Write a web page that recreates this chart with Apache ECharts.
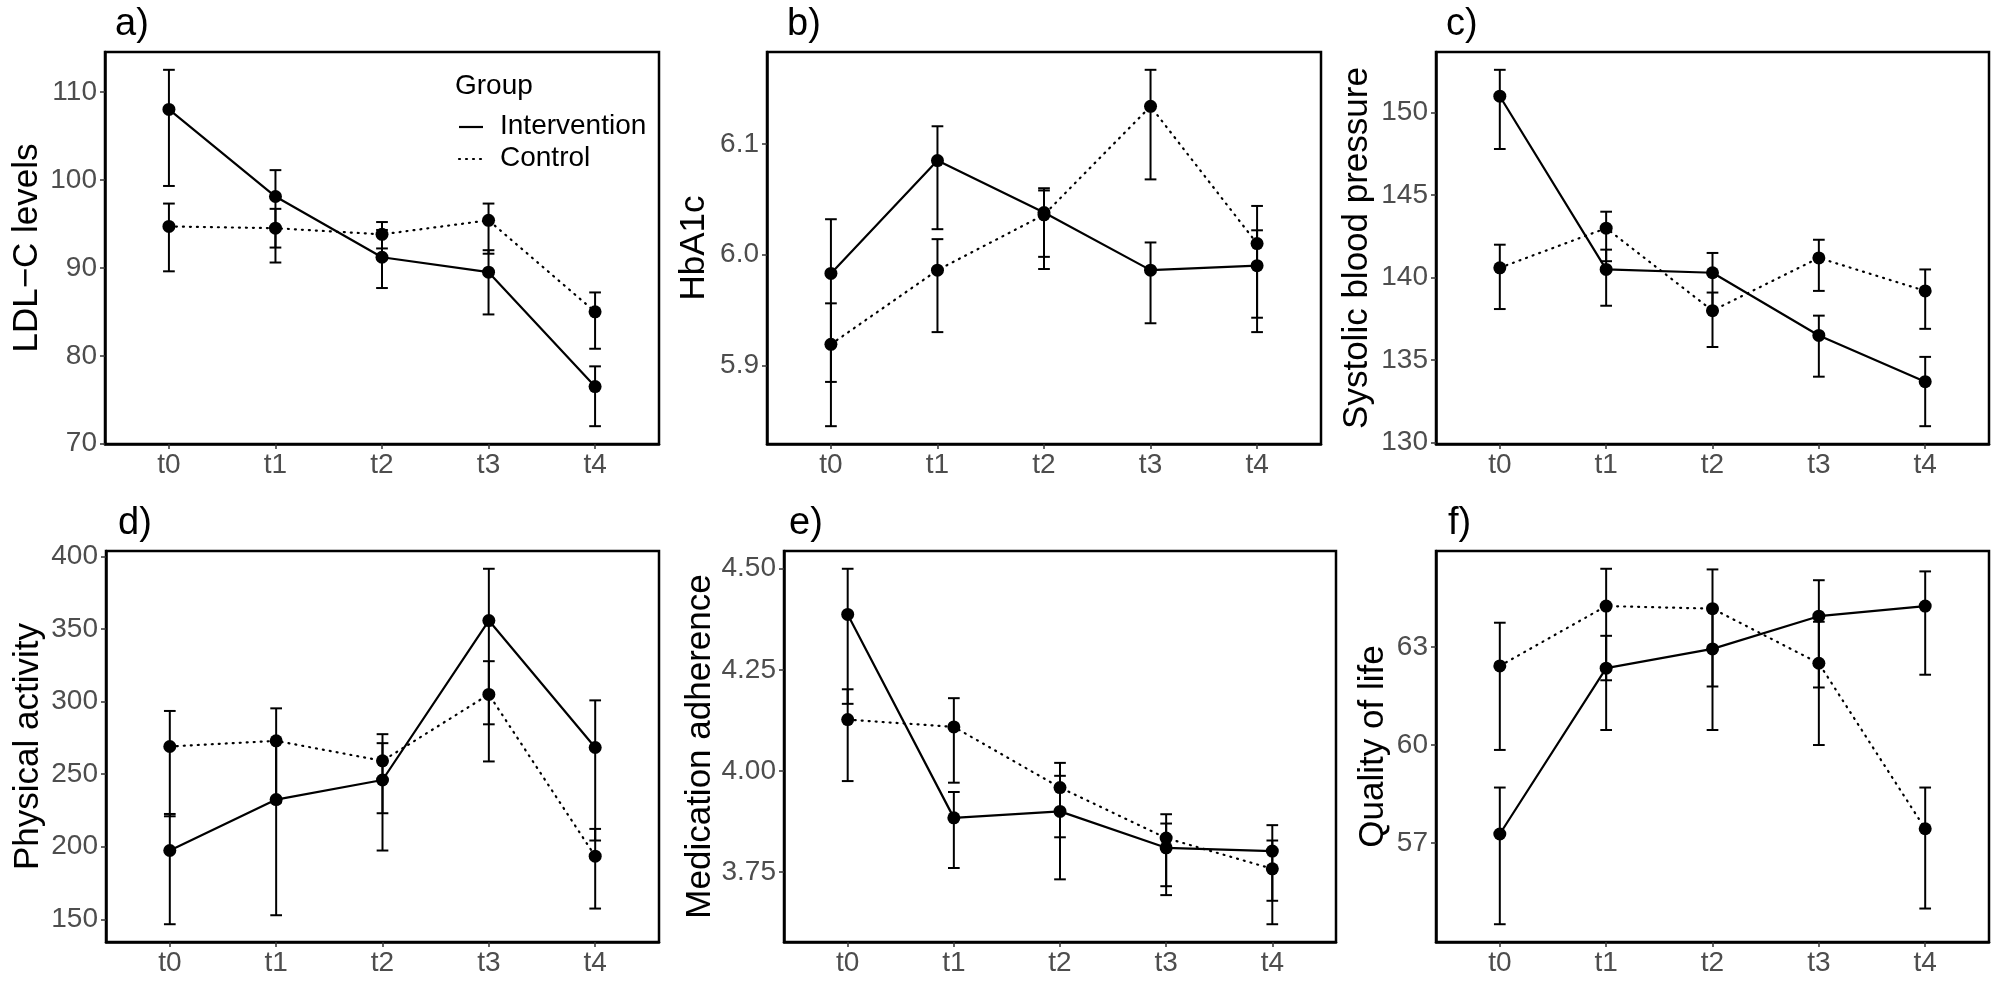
<!DOCTYPE html>
<html>
<head>
<meta charset="utf-8">
<script src="https://cdn.jsdelivr.net/npm/echarts@6/dist/echarts.min.js"></script>
<style>
  html, body { margin: 0; padding: 0; background: #fff; }
  #main { width: 1999px; height: 982px; }
</style>
</head>
<body>
<div id="main"></div>
<script>
// time points shared by all panels
const timepoints = ['t0', 't1', 't2', 't3', 't4'];

// a) LDL-C
const ldlInt = [108.0, 98.1, 91.2, 89.5, 76.5];
const ldlIntCI = [[99.3, 112.5], [92.3, 101.1], [87.7, 94.3], [84.7, 92.0], [72.0, 78.8]];
const ldlCtl = [94.7, 94.5, 93.8, 95.4, 85.0];
const ldlCtlCI = [[89.6, 97.3], [90.6, 96.7], [92.2, 95.2], [91.6, 97.3], [80.8, 87.2]];
const ldlTicks = [70, 80, 90, 100, 110];

// b) HbA1c
const hbaInt = [5.983, 6.085, 6.038, 5.986, 5.990];
const hbaIntCI = [[5.885, 6.032], [6.023, 6.116], [5.998, 6.060], [5.938, 6.011], [5.930, 6.022]];
const hbaCtl = [5.919, 5.986, 6.036, 6.134, 6.010];
const hbaCtlCI = [[5.845, 5.956], [5.930, 6.014], [5.987, 6.058], [6.068, 6.167], [5.943, 6.044]];
const hbaTicks = [5.9, 6.0, 6.1];

// c) systolic blood pressure
const sbpInt = [151.0, 140.5, 140.3, 136.5, 133.7];
const sbpIntCI = [[147.8, 152.6], [138.3, 141.7], [138.0, 141.5], [134.0, 137.7], [131.0, 135.2]];
const sbpCtl = [140.6, 143.0, 138.0, 141.2, 139.2];
const sbpCtlCI = [[138.1, 142.0], [141.0, 144.0], [135.8, 139.1], [139.2, 142.3], [136.9, 140.5]];
const sbpTicks = [130, 135, 140, 145, 150];

// d) physical activity
const paInt = [197.4, 232.5, 246.0, 355.9, 268.4];
const paIntCI = [[146.6, 222.6], [152.8, 272.5], [197.4, 271.4], [284.4, 391.6], [204.3, 300.9]];
const paCtl = [269.1, 273.0, 259.2, 305.0, 193.5];
const paCtlCI = [[221.0, 293.6], [230.5, 295.4], [223.1, 277.6], [258.8, 327.9], [157.4, 212.3]];
const paTicks = [150, 200, 250, 300, 350, 400];

// e) medication adherence
const medInt = [4.387, 3.884, 3.900, 3.810, 3.802];
const medIntCI = [[4.166, 4.500], [3.760, 3.948], [3.732, 3.988], [3.693, 3.870], [3.679, 3.866]];
const medCtl = [4.127, 4.109, 3.959, 3.834, 3.758];
const medCtlCI = [[3.975, 4.202], [3.971, 4.180], [3.836, 4.020], [3.715, 3.893], [3.621, 3.828]];
const medTicks = [3.75, 4.00, 4.25, 4.50];

// f) quality of life
const qolInt = [57.28, 62.35, 62.94, 63.94, 64.25];
const qolIntCI = [[54.52, 58.70], [60.46, 63.34], [60.46, 64.2], [61.76, 65.04], [62.15, 65.31]];
const qolCtl = [62.42, 64.25, 64.17, 62.50, 57.44];
const qolCtlCI = [[59.85, 63.74], [61.98, 65.39], [61.79, 65.37], [60.0, 63.77], [55.0, 58.70]];
const qolTicks = [57, 60, 63];

const panels = [
  { label: 'a)', title: 'LDL\u2212C levels', int: ldlInt, intCI: ldlIntCI, ctl: ldlCtl, ctlCI: ldlCtlCI, ticks: ldlTicks, dec: 0,
    grid: { left: 105, top: 52, width: 554, height: 392 }, nameGap: 60 },
  { label: 'b)', title: 'HbA1c', int: hbaInt, intCI: hbaIntCI, ctl: hbaCtl, ctlCI: hbaCtlCI, ticks: hbaTicks, dec: 1,
    grid: { left: 767, top: 52, width: 554, height: 392 }, nameGap: 55 },
  { label: 'c)', title: 'Systolic blood pressure', int: sbpInt, intCI: sbpIntCI, ctl: sbpCtl, ctlCI: sbpCtlCI, ticks: sbpTicks, dec: 0,
    grid: { left: 1436, top: 52, width: 553, height: 392 }, nameGap: 61 },
  { label: 'd)', title: 'Physical activity', int: paInt, intCI: paIntCI, ctl: paCtl, ctlCI: paCtlCI, ticks: paTicks, dec: 0,
    grid: { left: 106, top: 551, width: 553, height: 391 }, nameGap: 60 },
  { label: 'e)', title: 'Medication adherence', int: medInt, intCI: medIntCI, ctl: medCtl, ctlCI: medCtlCI, ticks: medTicks, dec: 2,
    grid: { left: 784, top: 551, width: 552, height: 391 }, nameGap: 65 },
  { label: 'f)', title: 'Quality of life', int: qolInt, intCI: qolIntCI, ctl: qolCtl, ctlCI: qolCtlCI, ticks: qolTicks, dec: 0,
    grid: { left: 1436, top: 551, width: 553, height: 391 }, nameGap: 45 }
];

const FONT = 'Liberation Sans, Arial, sans-serif';
const labelPos = [[115, 6], [787, 6], [1446, 6], [118, 505], [789, 505], [1448, 505]];

// ggplot-like 5% expansion from the error bar range
function yRange(p) {
  const all = p.intCI.concat(p.ctlCI).flat();
  const lo = Math.min(...all), hi = Math.max(...all);
  const pad = (hi - lo) * 0.05;
  return [lo - pad, hi + pad];
}

function errorBars(ci, k) {
  return {
    type: 'custom',
    xAxisIndex: k,
    yAxisIndex: k,
    silent: true,
    z: 2,
    data: ci.map((c, i) => [i, c[0], c[1]]),
    encode: { x: 0, y: [1, 2] },
    renderItem: function (params, api) {
      const x = api.value(0);
      const top = api.coord([x, api.value(2)]);
      const bot = api.coord([x, api.value(1)]);
      const half = api.size([0.11, 0])[0] / 2;
      const style = { stroke: '#000', lineWidth: 2 };
      return {
        type: 'group',
        children: [
          { type: 'line', shape: { x1: top[0], y1: top[1], x2: bot[0], y2: bot[1] }, style: style },
          { type: 'line', shape: { x1: top[0] - half, y1: top[1], x2: top[0] + half, y2: top[1] }, style: style },
          { type: 'line', shape: { x1: bot[0] - half, y1: bot[1], x2: bot[0] + half, y2: bot[1] }, style: style }
        ]
      };
    }
  };
}

function lineSeries(vals, k, dotted) {
  return {
    type: 'line',
    xAxisIndex: k,
    yAxisIndex: k,
    z: 3,
    data: vals.map((v, i) => [i, v]),
    symbol: 'circle',
    symbolSize: 13,
    itemStyle: { color: '#000' },
    lineStyle: { color: '#000', width: 2.2, type: dotted ? [1, 6] : 'solid', cap: 'round' },
    animation: false
  };
}

const grids = [], xAxes = [], yAxes = [], series = [], titles = [];
panels.forEach((p, k) => {
  const r = yRange(p);
  grids.push(Object.assign({ show: true, borderColor: '#000', borderWidth: 2.5 }, p.grid));
  xAxes.push({
    type: 'value', gridIndex: k, min: -0.6, max: 4.6,
    splitLine: { show: false },
    axisLine: { onZero: false, lineStyle: { color: '#000', width: 2.5 } },
    axisTick: { customValues: [0, 1, 2, 3, 4], length: 5, lineStyle: { color: '#333', width: 1.5 } },
    axisLabel: {
      customValues: [0, 1, 2, 3, 4],
      formatter: v => timepoints[v],
      color: '#4d4d4d', fontSize: 28, fontFamily: FONT, margin: 7
    }
  });
  yAxes.push({
    type: 'value', gridIndex: k, min: r[0], max: r[1],
    splitLine: { show: false },
    axisLine: { onZero: false, lineStyle: { color: '#000', width: 2.5 } },
    axisTick: { customValues: p.ticks, length: 5, lineStyle: { color: '#333', width: 1.5 } },
    axisLabel: {
      customValues: p.ticks,
      formatter: v => Number(v).toFixed(p.dec),
      color: '#4d4d4d', fontSize: 28, fontFamily: FONT, margin: 8
    },
    name: p.title,
    nameLocation: 'middle',
    nameRotate: 90,
    nameGap: p.nameGap,
    nameTextStyle: { color: '#000', fontSize: 35, fontFamily: FONT }
  });
  series.push(errorBars(p.intCI, k), errorBars(p.ctlCI, k));
  series.push(lineSeries(p.int, k, false), lineSeries(p.ctl, k, true));
  titles.push({
    text: p.label, left: labelPos[k][0], top: labelPos[k][1], padding: 0,
    textStyle: { fontSize: 38, fontWeight: 'normal', color: '#000', fontFamily: FONT }
  });
});

const legendText = { fill: '#000', fontSize: 28, fontFamily: FONT };

const chart = echarts.init(document.getElementById('main'), null, { renderer: 'canvas' });
chart.setOption({
  backgroundColor: '#fff',
  animation: false,
  title: titles,
  grid: grids,
  xAxis: xAxes,
  yAxis: yAxes,
  series: series,
  graphic: [
    { type: 'text', left: 455, top: 72, style: Object.assign({ text: 'Group' }, legendText) },
    { type: 'line', shape: { x1: 459, y1: 127, x2: 483, y2: 127 }, style: { stroke: '#000', lineWidth: 2.2 } },
    { type: 'line', shape: { x1: 459, y1: 159, x2: 483, y2: 159 }, style: { stroke: '#000', lineWidth: 2.2, lineDash: [1, 6], lineCap: 'round' } },
    { type: 'text', left: 500, top: 112, style: Object.assign({ text: 'Intervention' }, legendText) },
    { type: 'text', left: 500, top: 144, style: Object.assign({ text: 'Control' }, legendText) }
  ]
});
</script>
</body>
</html>
